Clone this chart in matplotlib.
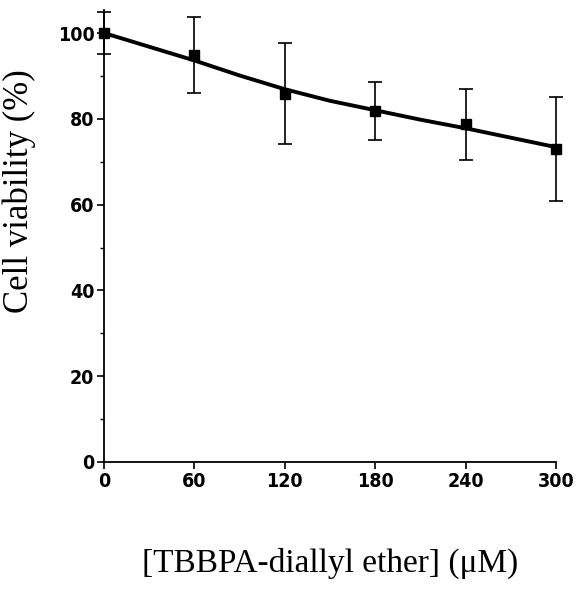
import numpy as np
import matplotlib.pyplot as plt
from matplotlib.ticker import MultipleLocator

# measured points
conc = [0, 60, 120, 180, 240, 300]
viab = [100, 94.9, 85.9, 81.8, 78.7, 72.9]
err = [4.8, 8.9, 11.8, 6.8, 8.3, 12.1]

# fitted curve
fit_x = [0, 30, 60, 90, 120, 150, 180, 210, 240, 270, 300]
fit_y = [100, 96.8, 93.6, 90.1, 86.9, 84.2, 82.0, 79.8, 77.8, 75.6, 73.4]

fig = plt.figure(figsize=(5.78, 5.92), dpi=100)
ax = fig.add_axes([0.18, 0.2196, 0.782, 0.763])

ax.plot(fit_x, fit_y, color='black', lw=2.8, clip_on=False)
ax.errorbar(conc, viab, yerr=err, fmt='s', color='black', ms=7,
            ecolor='black', elinewidth=1.2, capsize=5, capthick=1.2,
            clip_on=False, zorder=3)

ax.set_xlim(0, 300)
ax.set_ylim(0, 105.3)
ax.set_xticks(conc)
ax.set_yticks([0, 20, 40, 60, 80, 100])
ax.yaxis.set_minor_locator(MultipleLocator(10))

for s in ['top', 'right']:
    ax.spines[s].set_visible(False)
for s in ['left', 'bottom']:
    ax.spines[s].set_linewidth(1.3)

tickfont = ['Liberation Sans Narrow', 'DejaVu Sans']
ax.tick_params(axis='both', which='major', direction='out', length=5, width=1.2, pad=2)
ax.tick_params(axis='y', which='minor', direction='out', length=3, width=1.0)
for lab in ax.get_xticklabels() + ax.get_yticklabels():
    lab.set_family(tickfont)
    lab.set_stretch('condensed')
    lab.set_fontweight('bold')
    lab.set_fontsize(14)

ax.set_ylabel('Cell viability (%)', family='Liberation Serif', fontsize=25)
ax.yaxis.set_label_coords(-0.15, 0.6)
ax.set_xlabel('[TBBPA-diallyl ether] (\u03bcM)', family='Liberation Serif', fontsize=24, labelpad=41)

fig.savefig('out.png', dpi=100)
